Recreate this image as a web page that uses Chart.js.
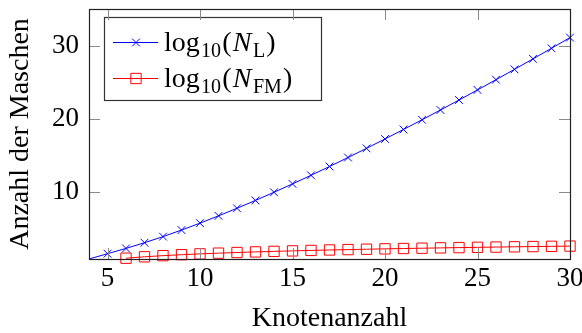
<!DOCTYPE html>
<html>
<head>
<meta charset="utf-8">
<script src="https://cdn.jsdelivr.net/npm/chart.js@4/dist/chart.umd.min.js"></script>
<style>
html,body{margin:0;padding:0;background:#fff;}
#wrap{width:582px;height:333px;position:relative;}
</style>
</head>
<body>
<div id="wrap"><canvas id="c" width="582" height="333"></canvas></div>
<script>
// ---- data ----
const nodesL = [4,5,6,7,8,9,10,11,12,13,14,15,16,17,18,19,20,21,22,23,24,25,26,27,28,29,30];
const valuesL = [0.845,1.568,2.294,3.069,3.904,4.797,5.744,6.739,7.776,8.851,9.962,11.106,12.280,13.482,14.711,15.964,17.242,18.542,19.863,21.204,22.565,23.945,25.342,26.756,28.187,29.633,31.095];
const nodesFM = [6,7,8,9,10,11,12,13,14,15,16,17,18,19,20,21,22,23,24,25,26,27,28,29,30];
const valuesFM = [0.954,1.146,1.301,1.431,1.544,1.644,1.732,1.813,1.887,1.954,2.017,2.076,2.130,2.182,2.230,2.277,2.320,2.362,2.401,2.439,2.476,2.511,2.544,2.576,2.608];
const xTicks = [5,10,15,20,25,30];
const yTicks = [10,20,30];
const xTitle = 'Knotenanzahl';
const yTitle = 'Anzahl der Maschen';
// legend labels: [text, kind]  kind: 'r' roman, 's' roman subscript, 'i' italic
const legendL = [['log','r'],['10','s'],['(','r'],['N','i'],['L','s'],[')','r']];
const legendFM = [['log','r'],['10','s'],['(','r'],['N','i'],['FM','s'],[')','r']];

const FONT = '"Liberation Serif", "Times New Roman", serif';
const X_MIN = 4, X_MAX = 30, Y_MIN = 0.845, Y_MAX = 35;

const toPts = (xs, ys) => xs.map((x, i) => ({x: x, y: ys[i]}));

const framePlugin = {
  id: 'frame',
  afterDraw(chart) {
    const {ctx, chartArea: a, scales} = chart;
    ctx.save();
    ctx.strokeStyle = '#8a8a8a';
    ctx.lineWidth = 1;
    const tl = 11;
    ctx.beginPath();
    xTicks.forEach(v => {
      const px = Math.round(scales.x.getPixelForValue(v)) + 0.5;
      ctx.moveTo(px, a.bottom); ctx.lineTo(px, a.bottom - tl);
      ctx.moveTo(px, a.top); ctx.lineTo(px, a.top + tl);
    });
    yTicks.forEach(v => {
      const py = Math.round(scales.y.getPixelForValue(v)) + 0.5;
      ctx.moveTo(a.left, py); ctx.lineTo(a.left + tl, py);
      ctx.moveTo(a.right, py); ctx.lineTo(a.right - tl, py);
    });
    ctx.stroke();
    ctx.strokeStyle = '#222';
    ctx.lineWidth = 1.2;
    ctx.strokeRect(Math.round(a.left) + 0.5, Math.round(a.top) + 0.5,
                   Math.round(a.right - a.left), Math.round(a.bottom - a.top));
    ctx.restore();
  }
};

function drawMath(ctx, parts, x, baseline) {
  let cx = x;
  parts.forEach(([t, k], idx) => {
    if (k === 'r') { ctx.font = '28px ' + FONT; ctx.fillText(t, cx, baseline); }
    else if (k === 'i') { ctx.font = 'italic 28px ' + FONT; ctx.fillText(t, cx, baseline); }
    else { ctx.font = '20px ' + FONT; ctx.fillText(t, cx, baseline + 6); }
    cx += ctx.measureText(t).width + (k === 'i' ? 1.5 : 1.2);
  });
}

const legendPlugin = {
  id: 'mathLegend',
  afterDatasetsDraw(chart) {
    const ctx = chart.ctx;
    ctx.save();
    const bx = 104.5, by = 17.5, bw = 217, bh = 83;
    ctx.fillStyle = '#fff';
    ctx.fillRect(bx, by, bw, bh);
    ctx.strokeStyle = '#333';
    ctx.lineWidth = 1.2;
    ctx.strokeRect(bx, by, bw, bh);
    const rows = [legendL, legendFM];
    const rowY = [42.5, 78.5];
    chart.data.datasets.forEach((ds, i) => {
      const y = rowY[i];
      ctx.strokeStyle = ds.borderColor;
      ctx.lineWidth = 1;
      ctx.beginPath(); ctx.moveTo(113, y); ctx.lineTo(158, y); ctx.stroke();
      ctx.fillStyle = ds.pointBackgroundColor;
      ctx.strokeStyle = ds.pointBorderColor;
      Chart.helpers.drawPoint(ctx, {
        pointStyle: ds.pointStyle, radius: ds.legendRadius, borderWidth: 1, rotation: 0
      }, 136, y);
      ctx.fillStyle = '#000';
      ctx.textBaseline = 'alphabetic';
      drawMath(ctx, rows[i], 164, y + 8);
    });
    ctx.restore();
  }
};

new Chart(document.getElementById('c'), {
  type: 'line',
  data: {
    datasets: [
      {
        label: 'log10(N_L)',
        data: toPts(nodesL, valuesL),
        borderColor: '#0000ff',
        backgroundColor: '#0000ff',
        borderWidth: 1,
        pointStyle: 'crossRot',
        pointRadius: c => (c.parsed && c.parsed.x <= X_MIN) ? 0 : 5.5,
        legendRadius: 5.5,
        pointBorderColor: '#0000ff',
        pointBackgroundColor: '#0000ff',
        pointBorderWidth: 1,
        clip: false,
        tension: 0
      },
      {
        label: 'log10(N_FM)',
        data: toPts(nodesFM, valuesFM),
        borderColor: '#ff0000',
        backgroundColor: 'rgba(0,0,0,0)',
        borderWidth: 1,
        pointStyle: 'rect',
        pointRadius: 7.3,
        legendRadius: 7.3,
        pointBorderColor: '#ff0000',
        pointBackgroundColor: 'rgba(0,0,0,0)',
        pointBorderWidth: 1,
        clip: false,
        tension: 0
      }
    ]
  },
  options: {
    responsive: false,
    animation: false,
    events: [],
    layout: {padding: {left: 0, right: 12, top: 9, bottom: 0}},
    plugins: {legend: {display: false}, tooltip: {enabled: false}},
    scales: {
      x: {
        type: 'linear', min: X_MIN, max: X_MAX,
        grid: {display: false, drawTicks: false, tickLength: 0},
        border: {display: false},
        afterBuildTicks: s => { s.ticks = xTicks.map(v => ({value: v})); },
        afterFit: s => { s.height = 74; s.paddingLeft = 0; s.paddingRight = 0; },
        ticks: {color: '#000', font: {family: FONT, size: 27}, padding: 4, maxRotation: 0, autoSkip: false},
        title: {display: true, text: xTitle, color: '#000', font: {family: FONT, size: 28, lineHeight: 1}, padding: {top: 0, bottom: 0}}
      },
      y: {
        type: 'linear', min: Y_MIN, max: Y_MAX,
        grid: {display: false, drawTicks: false, tickLength: 0},
        border: {display: false},
        afterBuildTicks: s => { s.ticks = yTicks.map(v => ({value: v})); },
        afterFit: s => { s.width = 89; s.paddingTop = 0; s.paddingBottom = 0; },
        ticks: {color: '#000', font: {family: FONT, size: 27}, padding: 10},
        title: {display: true, text: yTitle, color: '#000', font: {family: FONT, size: 28, lineHeight: 1}, padding: {top: 7, bottom: 0}}
      }
    }
  },
  plugins: [framePlugin, legendPlugin]
});
</script>
</body>
</html>
